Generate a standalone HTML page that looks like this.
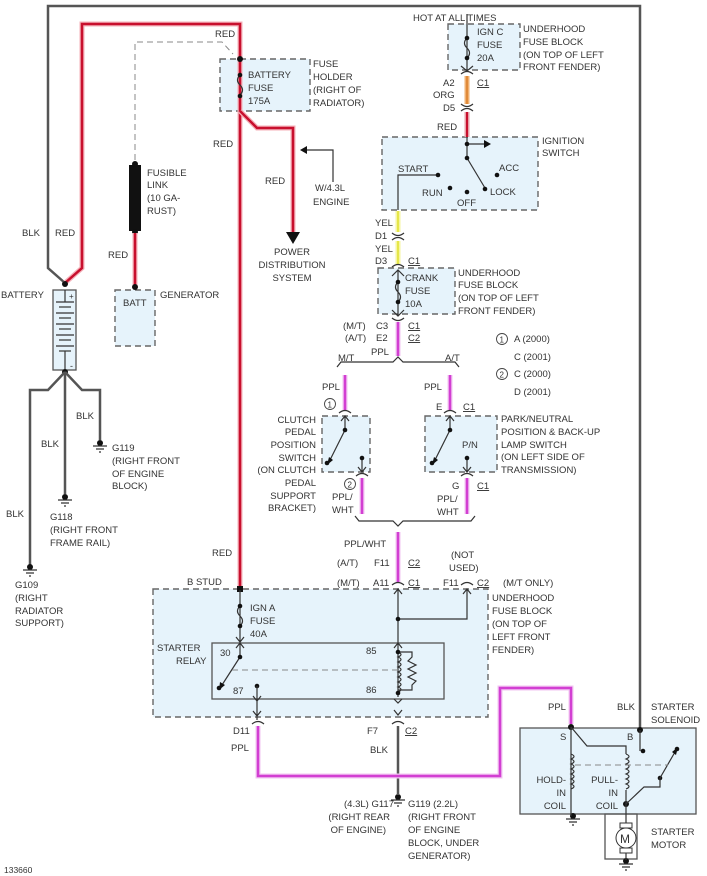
<!DOCTYPE html>
<html><head><meta charset="utf-8"><style>
html,body{margin:0;padding:0;background:#fff}
svg{display:block}
text{font-family:"Liberation Sans",sans-serif;font-size:9.5px;fill:#333}
.g{stroke:#555;stroke-width:2.5;fill:none}
.t{stroke:#333;stroke-width:1.2;fill:none}
.r{stroke:#c8102e;stroke-width:2.5;fill:none}
.rg{stroke:#f4b0b8;stroke-width:5;fill:none}
.p{stroke:#d23fd2;stroke-width:2.5;fill:none}
.pg{stroke:#f2c4f2;stroke-width:5;fill:none}
.box{fill:#e6f3fb;stroke:#666;stroke-width:1.4;stroke-dasharray:6,4}
.sb{fill:#e6f3fb;stroke:#555;stroke-width:1.3}
.d{stroke:#888;stroke-width:1;stroke-dasharray:6,4;fill:none}
</style></head><body>
<svg width="707" height="876" viewBox="0 0 707 876" xmlns="http://www.w3.org/2000/svg">
<!-- boxes -->
<rect class="box" x="220" y="59" width="90" height="52"/>
<rect class="box" x="115" y="290" width="40" height="56"/>
<rect class="box" x="448" y="24" width="72" height="46"/>
<rect class="box" x="382" y="137" width="156" height="73"/>
<rect class="box" x="378" y="268" width="77" height="46"/>
<rect class="box" x="322" y="416" width="48" height="56"/>
<rect class="box" x="425" y="416" width="72" height="56"/>
<rect class="box" x="153" y="589" width="335" height="128"/>
<rect class="sb" x="212" y="643" width="232" height="56"/>
<rect class="sb" x="520" y="728" width="176" height="86"/>
<rect x="605" y="814" width="32" height="45" fill="none" stroke="#555" stroke-width="1.3"/>

<!-- outer black -->
<polyline class="g" points="65,283 48,268 48,6 640,6 640,730"/>
<!-- red main -->
<polyline class="rg" points="65,283 82,268 82,24 240,24 240,590"/>
<polyline class="r" points="65,283 82,268 82,24 240,24 240,590"/>
<polyline class="rg" points="240,111 257,128 293,128 293,232"/>
<polyline class="r" points="240,111 257,128 293,128 293,232"/>
<polygon points="286,232 300,232 293,244" fill="#111"/>
<polyline class="t" points="333,182 333,150 303,150"/>
<polygon points="300,150 307,146 307,154" fill="#111"/>
<polyline class="d" points="135,160 135,42 222,42 233,54"/>
<rect x="129" y="165" width="12" height="66" fill="#111"/>
<circle cx="135" cy="164" r="3" fill="#111"/><circle cx="135" cy="232" r="3" fill="#111"/>
<line class="rg" x1="135" y1="233" x2="135" y2="287"/><line class="r" x1="135" y1="233" x2="135" y2="287"/>
<circle cx="135" cy="287" r="3" fill="#111"/>
<circle cx="240" cy="59" r="3" fill="#111"/><circle cx="65" cy="284" r="3" fill="#111"/>
<!-- battery fuse -->
<path class="t" d="M240,75 q-5,5 0,10 q5,5 0,10"/>
<circle cx="240" cy="75" r="2.3" fill="#111"/><circle cx="240" cy="96" r="2.3" fill="#111"/>
<!-- battery -->
<rect class="sb" x="53" y="290" width="23" height="80"/>
<g class="t"><line x1="65" y1="290" x2="65" y2="302"/>
<line x1="56" y1="302" x2="74" y2="302"/><line x1="59" y1="307" x2="71" y2="307"/>
<line x1="56" y1="313" x2="74" y2="313"/><line x1="59" y1="318" x2="71" y2="318"/>
<line x1="56" y1="324" x2="74" y2="324"/><line x1="59" y1="329" x2="71" y2="329"/>
<line x1="56" y1="335" x2="74" y2="335"/><line x1="59" y1="340" x2="71" y2="340"/>
<line x1="56" y1="346" x2="74" y2="346"/><line x1="59" y1="351" x2="71" y2="351"/>
<line x1="65" y1="351" x2="65" y2="370"/></g>
<text x="69" y="299" style="font-size:8px">+</text><text x="70" y="369" style="font-size:9px">-</text>
<circle cx="65" cy="372" r="3" fill="#111"/>
<polyline class="g" points="65,372 48,390 30,390 30,566"/>
<line class="g" x1="65" y1="372" x2="65" y2="494"/>
<polyline class="g" points="65,372 82,390 100,390 100,440"/>
<g fill="#111"><circle cx="100" cy="443" r="3"/><circle cx="65" cy="497" r="3"/><circle cx="30" cy="567" r="3"/>
<circle cx="398" cy="797" r="3"/><circle cx="573" cy="816" r="3"/><circle cx="626" cy="861" r="3"/></g>
<g class="t">
<path d="M93,446h14M96,449h8M99,452h2"/><path d="M58,500h14M61,503h8M64,506h2"/><path d="M23,570h14M26,573h8M29,576h2"/>
<path d="M391,800h14M394,803h8M397,806h2"/><path d="M566,819h14M569,822h8M572,825h2"/><path d="M619,864h14M622,867h8M625,870h2"/>
</g>
<!-- IGN C -->
<line class="t" x1="467" y1="14" x2="467" y2="70"/>
<path class="t" d="M467,38 q-5,5 0,10 q5,5 0,10"/>
<circle cx="467" cy="38" r="2.3" fill="#111"/><circle cx="467" cy="58" r="2.3" fill="#111"/>
<path class="t" d="M461,66l6,5 6,-5M461,74q6,-5 12,0"/>
<line stroke="#f0b070" stroke-width="5" x1="467" y1="76" x2="467" y2="104"/>
<line stroke="#e08a3a" stroke-width="2" x1="467" y1="76" x2="467" y2="104"/>
<path class="t" d="M461,104q6,5 12,0M461,111q6,-5 12,0"/>
<line stroke="#e8a0a8" stroke-width="5" x1="467" y1="112" x2="467" y2="137"/>
<line stroke="#c8102e" stroke-width="2" x1="467" y1="112" x2="467" y2="137"/>
<!-- ignition switch -->
<g class="t"><line x1="467" y1="137" x2="467" y2="158"/><line x1="467" y1="144" x2="488" y2="144"/>
<line x1="467" y1="158" x2="485" y2="188"/><polyline points="438,175 398,175 398,210"/></g>
<polygon points="491,144 484,140 484,148" fill="#111"/>
<g fill="#111"><circle cx="467" cy="144" r="2.3"/><circle cx="467" cy="158" r="2.3"/><circle cx="438" cy="175" r="2.3"/>
<circle cx="450" cy="188" r="2.3"/><circle cx="467" cy="192" r="2.3"/><circle cx="497" cy="175" r="2.3"/><circle cx="485" cy="189" r="2.3"/></g>
<line stroke="#f6f6a0" stroke-width="5" x1="398" y1="211" x2="398" y2="232"/><line stroke="#e6e64a" stroke-width="2" x1="398" y1="211" x2="398" y2="232"/>
<path class="t" d="M392,233q6,5 12,0M392,240q6,-5 12,0"/>
<line stroke="#f6f6a0" stroke-width="5" x1="398" y1="241" x2="398" y2="264"/><line stroke="#e6e64a" stroke-width="2" x1="398" y1="241" x2="398" y2="264"/>
<path class="t" d="M392,267q6,-5 12,0"/>
<!-- crank fuse -->
<path class="t" d="M398,270v46M392,276l6,-6 6,6M398,282q-5,5 0,10q5,5 0,10M392,310l6,6 6,-6M392,318q6,5 12,0"/>
<circle cx="398" cy="282" r="2.3" fill="#111"/><circle cx="398" cy="302" r="2.3" fill="#111"/>
<line class="pg" x1="398" y1="322" x2="398" y2="356"/><line class="p" x1="398" y1="322" x2="398" y2="356"/>
<path class="t" d="M337,367l4,-5h52l5,-5 5,5h52l4,5"/>
<line class="pg" x1="345" y1="375" x2="345" y2="410"/><line class="p" x1="345" y1="375" x2="345" y2="410"/>
<line class="pg" x1="450" y1="375" x2="450" y2="410"/><line class="p" x1="450" y1="375" x2="450" y2="410"/>
<path class="t" d="M339,413q6,-5 12,0M444,413q6,-5 12,0"/>
<!-- clutch switch -->
<path class="t" d="M345,416v14M341,421l4,-5 4,5M345,430l-16,32M362,459v12M358,467l4,5 4,-5"/>
<polygon points="327,465 329,457 333,460" fill="#111"/>
<g fill="#111"><circle cx="345" cy="430" r="2.3"/><circle cx="327" cy="463" r="2.3"/><circle cx="362" cy="458" r="2.3"/></g>
<path class="t" d="M450,416v14M446,421l4,-5 4,5M450,430l-16,32M467,459v12M463,467l4,5 4,-5"/>
<polygon points="432,465 434,457 438,460" fill="#111"/>
<g fill="#111"><circle cx="450" cy="430" r="2.3"/><circle cx="432" cy="463" r="2.3"/><circle cx="467" cy="458" r="2.3"/></g>
<path class="t" d="M356,476q6,-5 12,0M461,476q6,-5 12,0"/>
<line class="pg" x1="362" y1="478" x2="362" y2="514"/><line class="p" x1="362" y1="478" x2="362" y2="514"/>
<line class="pg" x1="467" y1="478" x2="467" y2="514"/><line class="p" x1="467" y1="478" x2="467" y2="514"/>
<path class="t" d="M355,516l4,5h34l5,5 5,-5h68l4,-5"/>
<line class="pg" x1="398" y1="532" x2="398" y2="582"/><line class="p" x1="398" y1="532" x2="398" y2="582"/>
<circle cx="330" cy="404" r="5.5" fill="none" stroke="#444" stroke-width="0.9"/><text x="327.5" y="407.5" style="font-size:8px">1</text>
<circle cx="350" cy="484" r="5.5" fill="none" stroke="#444" stroke-width="0.9"/><text x="347.5" y="487.5" style="font-size:8px">2</text>
<circle cx="502" cy="339" r="5.5" fill="none" stroke="#444" stroke-width="0.9"/><text x="499.5" y="342.5" style="font-size:8px">1</text>
<circle cx="502" cy="374" r="5.5" fill="none" stroke="#444" stroke-width="0.9"/><text x="499.5" y="377.5" style="font-size:8px">2</text>
<!-- big fuse block -->
<rect x="237" y="586" width="6" height="6" fill="#111"/>
<path class="t" d="M240,590v53M240,606q-5,5 0,10q5,5 0,10M236,637l4,5 4,-5M236,648l4,-5 4,5M240,643v14M240,657l-18,28"/>
<polygon points="219,690 220,682 225,685" fill="#111"/>
<g fill="#111"><circle cx="240" cy="606" r="2.3"/><circle cx="240" cy="626" r="2.3"/><circle cx="240" cy="657" r="2.3"/><circle cx="219" cy="688" r="2.3"/><circle cx="257" cy="686" r="2.3"/></g>
<path class="t" d="M257,686v34M253,696l4,5 4,-5M253,711l4,5 4,-5M252,724q6,-5 12,0"/>
<path class="t" d="M392,585q6,-5 12,0M398,589v108M394,594l4,-5 4,5M394,648l4,-5 4,5M398,619h69v-30M463,594l4,-5 4,5M461,585q6,-5 12,0"/>
<circle cx="398" cy="619" r="2.3" fill="#111"/>
<path class="t" d="M398,652q6,2.5 0,5q6,2.5 0,5q6,2.5 0,5q6,2.5 0,5q6,2.5 0,5q6,2.5 0,5q6,2.5 0,5q6,2.5 0,5M398,652h14v5l-4,4 8,4 -8,4 8,4 -8,4 8,4 -4,4v5h-14"/>
<g fill="#111"><circle cx="398" cy="652" r="2.3"/><circle cx="398" cy="693" r="2.3"/></g>
<path class="t" d="M394,699l4,4 4,-4M394,710l4,5 4,-5M392,724q6,-5 12,0"/>
<line class="d" x1="232" y1="670" x2="400" y2="670"/>
<line class="g" x1="398" y1="726" x2="398" y2="795"/>
<polyline class="pg" points="258,726 258,776 500,776 500,688 571,688 571,724"/>
<polyline class="p" points="258,726 258,776 500,776 500,688 571,688 571,724"/>
<!-- solenoid -->
<g fill="#111"><circle cx="571" cy="727" r="3"/><circle cx="640" cy="730" r="3"/><circle cx="643" cy="751" r="2.3"/>
<circle cx="626" cy="804" r="3"/><circle cx="677" cy="749" r="2.3"/><circle cx="660" cy="778" r="2.3"/></g>
<path class="t" d="M640,730v21M571,727v89M571,727l16,19h39v8M626,790v70M571,754q6,2.5 0,5q6,2.5 0,5q6,2.5 0,5q6,2.5 0,5q6,2.5 0,5q6,2.5 0,5q6,2.5 0,5M626,754q6,2.5 0,5q6,2.5 0,5q6,2.5 0,5q6,2.5 0,5q6,2.5 0,5q6,2.5 0,5q6,2.5 0,5M626,804l18,-17h16v-9M660,778l15,-26"/>
<polygon points="678,747 672,752 676,755" fill="#111"/>
<line class="d" x1="575" y1="765" x2="668" y2="765"/>
<rect x="620" y="823" width="12" height="5" fill="#fff" stroke="#333" stroke-width="1"/>
<rect x="620" y="848" width="12" height="5" fill="#fff" stroke="#333" stroke-width="1"/>
<circle cx="626" cy="838" r="10" fill="#fff" stroke="#333" stroke-width="1"/>
<text x="620" y="843" style="font-size:12px">M</text>

<!-- labels -->
<text x="215" y="37">RED</text>
<text x="248" y="78">BATTERY</text><text x="248" y="91">FUSE</text><text x="248" y="104">175A</text>
<text x="313" y="67">FUSE</text><text x="313" y="80">HOLDER</text><text x="313" y="93">(RIGHT OF</text><text x="313" y="106">RADIATOR)</text>
<text x="213" y="147">RED</text><text x="265" y="184">RED</text>
<text x="315" y="191">W/4.3L</text><text x="313" y="205">ENGINE</text>
<text x="292" y="255" text-anchor="middle">POWER</text><text x="292" y="268" text-anchor="middle">DISTRIBUTION</text><text x="292" y="281" text-anchor="middle">SYSTEM</text>
<text x="147" y="176">FUSIBLE</text><text x="147" y="188">LINK</text><text x="147" y="201">(10 GA-</text><text x="147" y="214">RUST)</text>
<text x="22" y="236">BLK</text><text x="55" y="236">RED</text><text x="108" y="258">RED</text>
<text x="1" y="298">BATTERY</text><text x="123" y="306">BATT</text><text x="160" y="298">GENERATOR</text>
<text x="76" y="419">BLK</text><text x="41" y="447">BLK</text><text x="6" y="517">BLK</text>
<text x="112" y="451">G119</text><text x="112" y="464">(RIGHT FRONT</text><text x="112" y="477">OF ENGINE</text><text x="112" y="489">BLOCK)</text>
<text x="50" y="520">G118</text><text x="50" y="533">(RIGHT FRONT</text><text x="50" y="546">FRAME RAIL)</text>
<text x="15" y="588">G109</text><text x="15" y="601">(RIGHT</text><text x="15" y="614">RADIATOR</text><text x="15" y="626">SUPPORT)</text>
<text x="413" y="21">HOT AT ALL TIMES</text>
<text x="477" y="35">IGN C</text><text x="477" y="48">FUSE</text><text x="477" y="61">20A</text>
<text x="523" y="32">UNDERHOOD</text><text x="523" y="45">FUSE BLOCK</text><text x="523" y="58">(ON TOP OF LEFT</text><text x="523" y="70">FRONT FENDER)</text>
<text x="443" y="86">A2</text><text x="477" y="86" text-decoration="underline">C1</text><text x="433" y="98">ORG</text><text x="443" y="111">D5</text><text x="437" y="130">RED</text>
<text x="542" y="144">IGNITION</text><text x="542" y="156">SWITCH</text>
<text x="398" y="172">START</text><text x="499" y="171">ACC</text><text x="422" y="196">RUN</text><text x="490" y="195">LOCK</text><text x="457" y="206">OFF</text>
<text x="375" y="226">YEL</text><text x="375" y="239">D1</text><text x="375" y="252">YEL</text><text x="375" y="264">D3</text><text x="408" y="264" text-decoration="underline">C1</text>
<text x="405" y="281">CRANK</text><text x="405" y="294">FUSE</text><text x="405" y="307">10A</text>
<text x="458" y="276">UNDERHOOD</text><text x="458" y="288">FUSE BLOCK</text><text x="458" y="301">(ON TOP OF LEFT</text><text x="458" y="314">FRONT FENDER)</text>
<text x="343" y="329">(M/T)</text><text x="376" y="329">C3</text><text x="408" y="329" text-decoration="underline">C1</text>
<text x="345" y="341">(A/T)</text><text x="376" y="341">E2</text><text x="408" y="341" text-decoration="underline">C2</text>
<text x="371" y="355">PPL</text><text x="338" y="361">M/T</text><text x="445" y="361">A/T</text>
<text x="514" y="342">A  (2000)</text><text x="514" y="360">C  (2001)</text><text x="514" y="377">C  (2000)</text><text x="514" y="395">D  (2001)</text>
<text x="322" y="390">PPL</text><text x="424" y="390">PPL</text>
<text x="436" y="410">E</text><text x="463" y="410" text-decoration="underline">C1</text>
<text x="316" y="423" text-anchor="end">CLUTCH</text><text x="316" y="435" text-anchor="end">PEDAL</text><text x="316" y="448" text-anchor="end">POSITION</text><text x="316" y="461" text-anchor="end">SWITCH</text><text x="316" y="473" text-anchor="end">(ON CLUTCH</text><text x="316" y="486" text-anchor="end">PEDAL</text><text x="316" y="499" text-anchor="end">SUPPORT</text><text x="316" y="511" text-anchor="end">BRACKET)</text>
<text x="462" y="448">P/N</text>
<text x="501" y="422">PARK/NEUTRAL</text><text x="501" y="435">POSITION &amp; BACK-UP</text><text x="501" y="448">LAMP SWITCH</text><text x="501" y="460">(ON LEFT SIDE OF</text><text x="501" y="473">TRANSMISSION)</text>
<text x="452" y="489">G</text><text x="477" y="489" text-decoration="underline">C1</text>
<text x="332" y="500">PPL/</text><text x="332" y="513">WHT</text><text x="437" y="502">PPL/</text><text x="437" y="515">WHT</text>
<text x="344" y="547">PPL/WHT</text>
<text x="337" y="566">(A/T)</text><text x="374" y="566">F11</text><text x="408" y="566" text-decoration="underline">C2</text>
<text x="451" y="558">(NOT</text><text x="449" y="571">USED)</text>
<text x="337" y="586">(M/T)</text><text x="373" y="586">A11</text><text x="408" y="586" text-decoration="underline">C1</text>
<text x="443" y="586">F11</text><text x="477" y="586" text-decoration="underline">C2</text><text x="503" y="586">(M/T ONLY)</text>
<text x="212" y="556">RED</text><text x="187" y="585">B STUD</text>
<text x="250" y="611">IGN A</text><text x="250" y="624">FUSE</text><text x="250" y="637">40A</text>
<text x="157" y="651">STARTER</text><text x="176" y="664">RELAY</text>
<text x="220" y="656">30</text><text x="366" y="654">85</text><text x="233" y="694">87</text><text x="366" y="693">86</text>
<text x="492" y="601">UNDERHOOD</text><text x="492" y="614">FUSE BLOCK</text><text x="492" y="627">(ON TOP OF</text><text x="492" y="640">LEFT FRONT</text><text x="492" y="653">FENDER)</text>
<text x="233" y="734">D11</text><text x="231" y="751">PPL</text><text x="367" y="734">F7</text><text x="405" y="734" text-decoration="underline">C2</text><text x="370" y="753">BLK</text>
<text x="394" y="807" text-anchor="end">(4.3L) G117</text><text x="390" y="820" text-anchor="end">(RIGHT REAR</text><text x="386" y="833" text-anchor="end">OF ENGINE)</text>
<text x="408" y="807">G119 (2.2L)</text><text x="408" y="820">(RIGHT FRONT</text><text x="408" y="833">OF ENGINE</text><text x="408" y="846">BLOCK, UNDER</text><text x="408" y="859">GENERATOR)</text>
<text x="548" y="710">PPL</text><text x="617" y="710">BLK</text><text x="651" y="710">STARTER</text><text x="651" y="723">SOLENOID</text>
<text x="560" y="740">S</text><text x="627" y="740">B</text>
<text x="566" y="783" text-anchor="end">HOLD-</text><text x="566" y="796" text-anchor="end">IN</text><text x="566" y="809" text-anchor="end">COIL</text>
<text x="618" y="783" text-anchor="end">PULL-</text><text x="618" y="796" text-anchor="end">IN</text><text x="618" y="809" text-anchor="end">COIL</text>
<text x="651" y="835">STARTER</text><text x="651" y="848">MOTOR</text>
<text x="4" y="873" style="font-size:8.5px">133660</text>
</svg>
</body></html>
